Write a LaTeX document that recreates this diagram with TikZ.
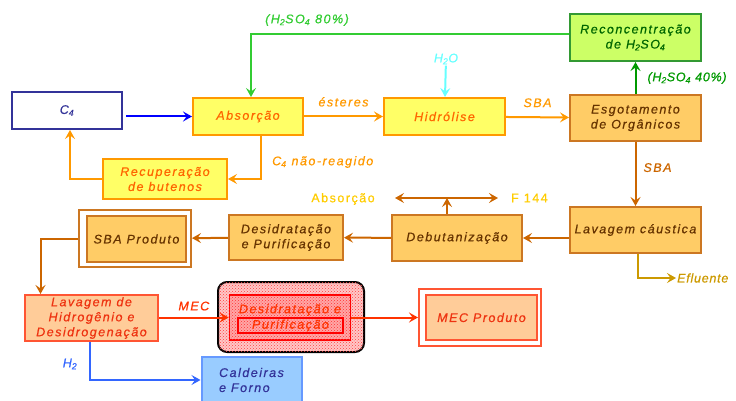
\documentclass[tikz,border=0pt]{standalone}
\usepackage{fontspec}
\setmainfont{Liberation Sans}
\newfontfamily\flowfont{Liberation Sans}[LetterSpace=12,FakeBold=0.6]
\newfontfamily\tightfont{Liberation Sans}[LetterSpace=6,FakeBold=0.6]
\usetikzlibrary{arrows.meta,positioning,patterns,calc}

\definecolor{fyellow}{HTML}{FFFF66}
\definecolor{byellow}{HTML}{FF9900}
\definecolor{tyellow}{HTML}{FF6600}
\definecolor{forange}{HTML}{FFCC66}
\definecolor{borange}{HTML}{CC7722}
\definecolor{torange}{HTML}{663300}
\definecolor{fgreen}{HTML}{CCFF66}
\definecolor{bgreen}{HTML}{339933}
\definecolor{tgreen}{HTML}{006600}
\definecolor{fsalmon}{HTML}{FFCC99}
\definecolor{bred}{HTML}{FF5533}
\definecolor{tred}{HTML}{EE3311}
\definecolor{fblue}{HTML}{99CCFF}
\definecolor{bblue}{HTML}{6699FF}
\definecolor{navy}{HTML}{333399}
\definecolor{cbrown}{HTML}{CC6600}
\definecolor{cgreenA}{HTML}{33CC33}
\definecolor{cgreenB}{HTML}{009900}
\definecolor{ccyan}{HTML}{66FFFF}
\definecolor{cgold}{HTML}{FFCC00}
\definecolor{cefl}{HTML}{CC9900}
\definecolor{cmec}{HTML}{FF3300}
\definecolor{ch2}{HTML}{3366FF}

\begin{document}
\begin{tikzpicture}[x=1pt, y=-1pt,
  box/.style={draw, line width=2pt, align=center, inner sep=1pt,
    font=\flowfont\itshape\fontsize{12.5}{15}\selectfont},
  ybox/.style={box, draw=byellow, fill=fyellow, text=tyellow},
  obox/.style={box, draw=borange, fill=forange, text=torange},
  lbl/.style={font=\flowfont\itshape\fontsize{12.5}{15}\selectfont, inner sep=1pt},
  flow/.style={line width=2pt, -{Stealth[length=9pt,width=10pt,inset=3.5pt]}},
  flowboth/.style={line width=2pt, {Stealth[length=9pt,width=10pt,inset=3.5pt]}-{Stealth[length=9pt,width=10pt,inset=3.5pt]}}
]
  \clip (0,0) rectangle (736,401);

  % first row
  \node[box, draw=navy, fill=white, text=navy, minimum width=110pt, minimum height=37pt] (c4) at (67,110.5) {C\textsubscript{4}};
  \node[ybox, minimum width=110pt, minimum height=37pt] (abs) at (248,116.5) {Absorção};
  \node[ybox, minimum width=121pt, minimum height=37pt] (hid) at (444.5,116.5) {Hidrólise};
  \node[obox, minimum width=131pt, minimum height=46pt] (esg) at (635.5,118) {Esgotamento\\de Orgânicos};
  \node[box, draw=bgreen, fill=fgreen, text=tgreen, minimum width=131pt, minimum height=47pt] (rec) at (635.5,37.5) {Reconcentração\\de H\textsubscript{2}SO\textsubscript{4}};
  \node[ybox, minimum width=124pt, minimum height=40pt] (recb) at (165,179) {Recuperação\\de butenos};

  % second row
  \node[obox, minimum width=131pt, minimum height=46pt] (lavc) at (635.5,230) {Lavagem cáustica};
  \node[obox, minimum width=130pt, minimum height=46pt] (debut) at (457,238) {Debutanização};
  \node[obox, minimum width=114pt, minimum height=45pt] (desp) at (286,237.5) {Desidratação\\e Purificação};
  \node[draw=borange, line width=2pt, fill=white, minimum width=112pt, minimum height=57pt] (sbaout) at (135,238.5) {};
  \node[obox, minimum width=99pt, minimum height=46pt] (sba) at (136.5,239) {SBA Produto};

  % third row
  \node[box, draw=bred, fill=fsalmon, text=tred, minimum width=133pt, minimum height=46pt] (lavh) at (91.5,318) {Lavagem de\\Hidrogênio e\\Desidrogenação};
  \node[draw=black, line width=2pt, rounded corners=9pt, fill=red!22,
    postaction={pattern=crosshatch dots, pattern color=red!75},
    minimum width=146pt, minimum height=70pt] (desout) at (291,317) {};
  \node[draw=red, line width=1.7pt, fill=red!35,
    postaction={pattern=crosshatch dots, pattern color=red!80},
    minimum width=121pt, minimum height=45pt] (desin) at (290,317.5) {};
  \node[lbl, text=cmec] (destxt) at (290,310) {Desidratação e};
  \node[lbl, draw=red, line width=1.3pt, text=cmec, minimum width=105pt, minimum height=15pt] (purtxt) at (290.5,325.5) {Purificação};
  \node[draw=bred, line width=2pt, fill=white, minimum width=122pt, minimum height=57pt] (mecout) at (480,317.5) {};
  \node[box, draw=bred, fill=fsalmon, text=tred, minimum width=111pt, minimum height=45pt] (mec) at (481.5,317.5) {MEC Produto};
  \node[box, draw=bblue, fill=fblue, text=navy, align=left, minimum width=100pt, minimum height=46pt] (cald) at (251.5,380) {Caldeiras\\e Forno};

  % labels
  \node[lbl, text=cgreenA] (h80) at (307,20) {(H\textsubscript{2}SO\textsubscript{4} 80\%)};
  \node[lbl, text=ccyan] (h2o) at (446,59) {H\textsubscript{2}O};
  \node[lbl, text=byellow, anchor=west] (nreag) at (271,162) {C\textsubscript{4} não-reagido};
  \node[lbl, font=\flowfont\fontsize{12.5}{15}\selectfont, text=cgold] (absl) at (343,199) {Absorção};
  \node[lbl, font=\flowfont\fontsize{12.5}{15}\selectfont, text=cgold, anchor=west] (f144) at (510,198) {F 144};
  \node[lbl, font=\tightfont\itshape\fontsize{12.5}{15}\selectfont, text=cefl, anchor=west] (eflu) at (676,278) {Efluente};
  \node[lbl, text=ch2] (h2) at (70,364) {H\textsubscript{2}};
  \coordinate (dtop) at (447,198);
  \coordinate (dleft) at (395,198);
  \coordinate (dright) at (498,198);

  % connectors
  \draw[flow, blue] ([xshift=3pt]c4.east |- abs) -- (abs);
  \draw[flow, cgreenA] ([yshift=3pt]rec.west) -| ([xshift=3pt]abs.north);
  \draw[flow, byellow] (abs) -- (hid) node[lbl, midway, above=8pt, text=byellow] {ésteres};
  \draw[flow, ccyan] (h2o) -- (hid);
  \draw[flow, byellow] (hid) -- (esg) node[lbl, midway, above=8pt, text=byellow] {SBA};
  \draw[flow, cgreenB] (esg) -- (rec) node[lbl, font=\tightfont\itshape\fontsize{12.5}{15}\selectfont, midway, right=10pt, text=cgreenB] {(H\textsubscript{2}SO\textsubscript{4} 40\%)};
  \draw[flow, cbrown] (esg) -- (lavc) node[lbl, pos=0.4, right=6pt, text=cbrown] {SBA};
  \draw[flow, byellow] ([xshift=13pt]abs.south) |- (recb.east);
  \draw[flow, byellow] (recb.west) -| ([xshift=3pt]c4.south);
  \draw[flow, cbrown] (lavc.west |- debut) -- (debut);
  \draw[flow, cefl] ([xshift=2.5pt]lavc.south) |- (eflu.west);
  \draw[flow, cbrown] ([xshift=-10pt]debut.north) -- (dtop);
  \draw[flowboth, cbrown] (dleft) -- (dright);
  \draw[flow, cbrown] (debut) -- (desp);
  \draw[flow, cbrown] (desp) -- (sbaout);
  \draw[flow, cbrown] (sbaout.west) -| ([xshift=-51pt]lavh.north);
  \draw[flow, cmec] (lavh.east |- desin) -- (desin.west) node[lbl, midway, above=5pt, text=cmec] {MEC};
  \draw[flow, cmec] (desin) -- (mecout);
  \draw[flow, ch2] ([xshift=-1.5pt]lavh.south) |- (cald.west);
\end{tikzpicture}
\end{document}
